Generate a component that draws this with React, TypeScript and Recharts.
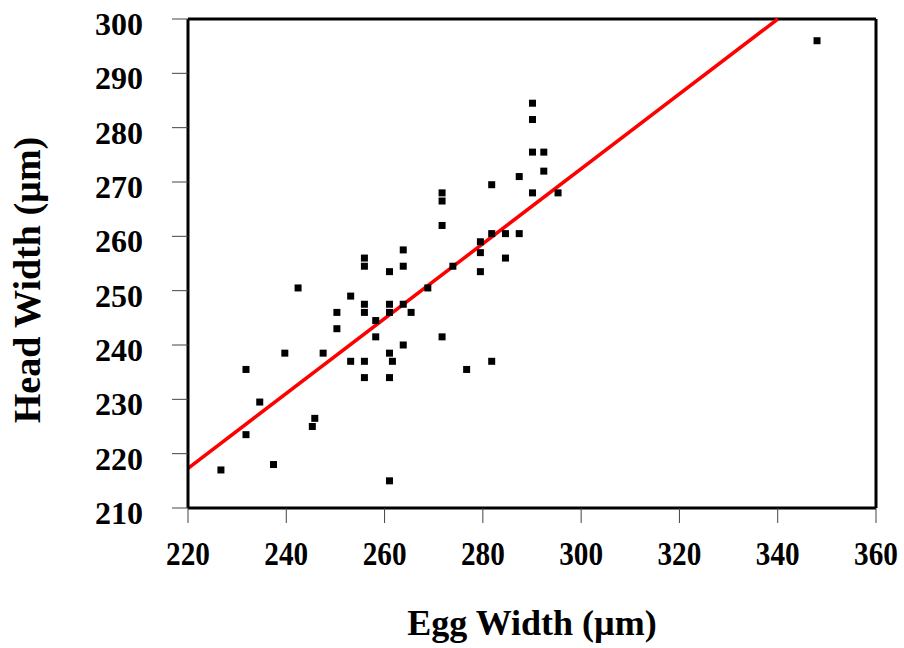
import { ScatterChart, Scatter, XAxis, YAxis, ReferenceLine } from "recharts";

// egg width (µm) vs head width (µm), one entry per larva
const eggWidth = [
  226.7, 231.8, 231.8, 234.6, 237.4, 239.7, 242.4, 245.8, 245.3, 247.5,
  250.3, 250.3, 253.1, 253.1, 255.9, 255.9, 255.9, 255.9, 255.9, 255.9,
  258.2, 258.2, 261.0, 261.0, 261.0, 261.0, 261.6, 261.0, 261.0, 263.8,
  263.8, 263.8, 263.8, 265.4, 268.8, 271.7, 271.7, 271.7, 271.7, 273.9,
  276.7, 279.5, 279.5, 279.5, 281.8, 281.8, 281.8, 284.6, 284.6, 287.4,
  287.4, 290.1, 290.1, 290.1, 290.1, 292.4, 292.4, 295.3, 348.0,
];
const headWidth = [
  217.0, 235.5, 223.5, 229.5, 218.0, 238.5, 250.5, 226.5, 225.0, 238.5,
  246.0, 243.0, 249.0, 237.0, 256.0, 254.5, 247.5, 246.0, 237.0, 234.0,
  244.5, 241.5, 253.5, 247.5, 246.0, 238.5, 237.0, 234.0, 215.0, 257.5,
  254.5, 247.5, 240.0, 246.0, 250.5, 268.0, 266.5, 262.0, 241.5, 254.5,
  235.5, 259.0, 257.0, 253.5, 269.5, 260.5, 237.0, 260.5, 256.0, 271.0,
  260.5, 284.5, 281.5, 275.5, 268.0, 275.5, 272.0, 268.0, 296.0,
];

const xTicks = [220, 240, 260, 280, 300, 320, 340, 360];
const yTicks = [210, 220, 230, 240, 250, 260, 270, 280, 290, 300];

// fitted line: head = fitAt220 + fitSlope * (egg - 220)
const fitAt220 = 217.3;
const fitSlope = 0.689;

const points = eggWidth.map((x, i) => ({ x, y: headWidth[i] }));
const fitEndX = 220 + (300 - fitAt220) / fitSlope;

const font = "'Liberation Serif', 'Times New Roman', serif";

const Square = (p: any) => (
  <rect x={p.cx - 3.5} y={p.cy - 3.5} width={7} height={7} fill="#000" />
);

// x labels in the original are a bit narrow, so squeeze them horizontally
const XTick = (p: any) => (
  <text
    x={0}
    y={0}
    dy="0.71em"
    transform={`translate(${p.x} ${p.y}) scale(0.86 1)`}
    textAnchor="middle"
    fontFamily={font}
    fontWeight="bold"
    fontSize={34}
    fill="#000"
  >
    {p.payload.value}
  </text>
);

const YTick = (p: any) => (
  <text x={p.x} y={p.y + 4.5} dy="0.355em" textAnchor="end" fontFamily={font} fontWeight="bold" fontSize={32} fill="#000">
    {p.payload.value}
  </text>
);

export default function App() {
  return (
    <div style={{ position: "absolute", left: 0, top: 0, background: "#fff" }}>
      <ScatterChart width={904} height={648} margin={{ top: 19, right: 28, bottom: 0, left: 0 }}>
        <XAxis
          type="number"
          dataKey="x"
          domain={[220, 360]}
          ticks={xTicks}
          height={140}
          tickSize={15}
          tickMargin={18}
          axisLine={{ stroke: "#000", strokeWidth: 3 }}
          tickLine={{ stroke: "#444", strokeWidth: 1 }}
          tick={XTick}
          label={(p: any) => (
            <text x={p.viewBox.x + p.viewBox.width / 2} y={635} textAnchor="middle" fontFamily={font} fontWeight="bold" fontSize={36} fill="#000">
              Egg Width (µm)
            </text>
          )}
        />
        <YAxis
          type="number"
          dataKey="y"
          domain={[210, 300]}
          ticks={yTicks}
          width={188}
          tickSize={16}
          tickMargin={29}
          axisLine={{ stroke: "#000", strokeWidth: 3 }}
          tickLine={{ stroke: "#444", strokeWidth: 1 }}
          tick={YTick}
          label={() => (
            <text x={40} y={280} transform="rotate(-90 40 280)" textAnchor="middle" fontFamily={font} fontWeight="bold" fontSize={38} fill="#000">
              Head Width (µm)
            </text>
          )}
        />
        <ReferenceLine y={300} stroke="#000" strokeWidth={3} />
        <ReferenceLine x={360} stroke="#000" strokeWidth={3} />
        <ReferenceLine
          segment={[{ x: 220, y: fitAt220 }, { x: fitEndX, y: 300 }]}
          stroke="#ff0000"
          strokeWidth={3.5}
        />
        <Scatter data={points} shape={Square} isAnimationActive={false} />
      </ScatterChart>
    </div>
  );
}
